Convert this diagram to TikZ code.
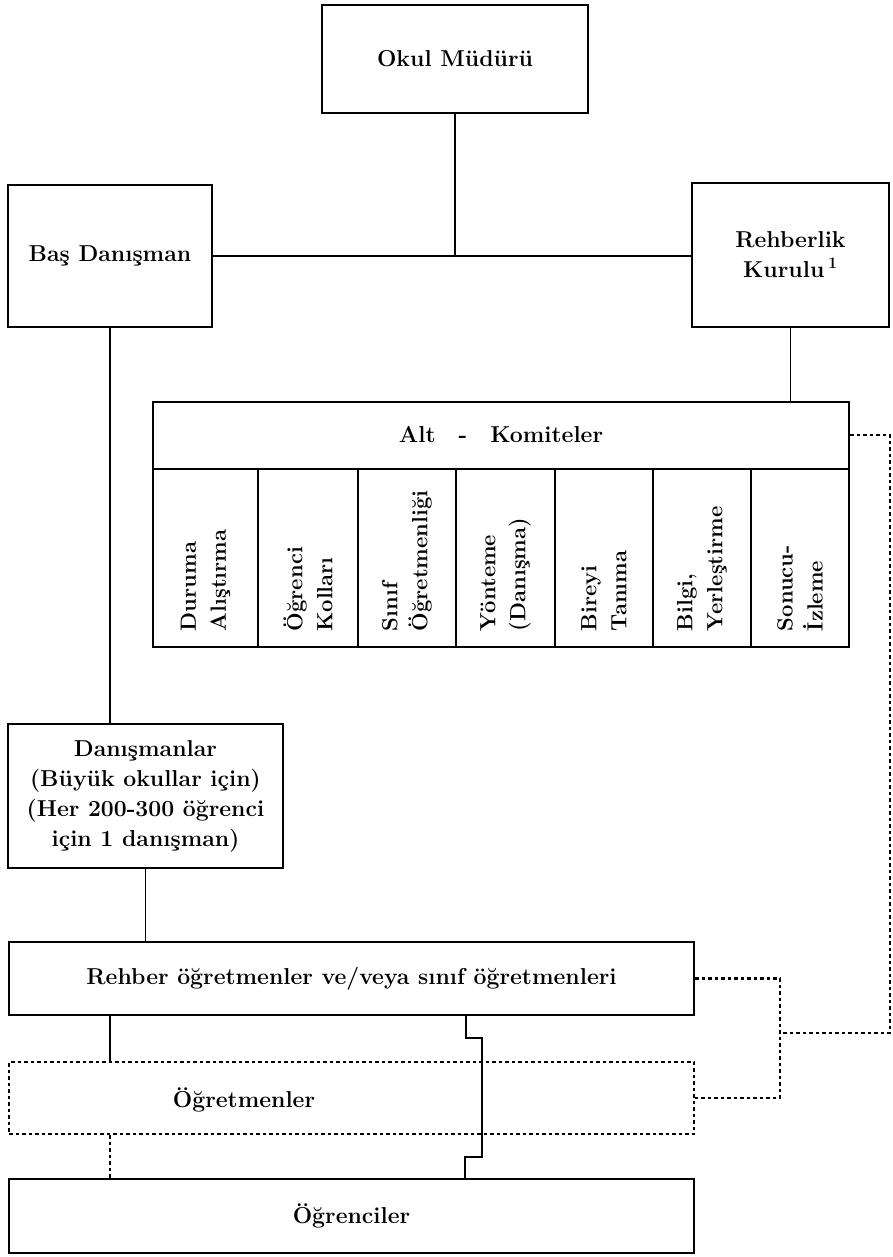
\documentclass[tikz,border=0pt]{standalone}
\usepackage{fontspec}
\usetikzlibrary{calc}

\begin{document}
\begin{tikzpicture}[x=1pt, y=-1pt, line width=1.8pt,
        font=\fontsize{23}{30}\selectfont\bfseries,
        box/.style={draw, rectangle, line width=2.3pt, inner sep=0pt, align=center},
        coltxt/.style={rotate=90, anchor=west, align=left, inner sep=0pt, font=\fontsize{22}{30}\selectfont\bfseries},
        dotline/.style={line width=2.4pt, dash pattern=on 3.5pt off 3pt}]
        \useasboundingbox (0,0) rectangle (893,1257);

        \node[box, minimum width=266, minimum height=108] (mudur) at (455,59) {Okul Müdürü};
        \node[box, minimum width=204, minimum height=142] (bas) at (110,256) {Baş Danışman};
        \node[box, minimum width=197, minimum height=144] (kurul) at (790.5,255) {Rehberlik\\Kurulu\,\textsuperscript{1}};
        \node[box, minimum width=275, minimum height=144] (dan) at (145.5,796) {Danışmanlar\\(Büyük okullar için)\\(Her 200-300 öğrenci\\için 1 danışman)};

        % alt komiteler tablosu
        \node[box, minimum width=696, minimum height=245] (altk) at (501,524.5) {};
        \node (hdr) at (501,435) {Alt\quad-\quad Komiteler};
        \draw[line width=2.3pt] (153,469) -- (849,469);
        \draw (258,469) -- (258,647);
        \draw (358,469) -- (358,647);
        \draw (456,469) -- (456,647);
        \draw (555,469) -- (555,647);
        \draw (653,469) -- (653,647);
        \draw (751,469) -- (751,647);
        \node[coltxt] (k1) at (205.5,632) {Duruma\\Alıştırma};
        \node[coltxt] (k2) at (308,632) {Öğrenci\\Kolları};
        \node[coltxt] (k3) at (407,632) {Sınıf\\Öğretmenliği};
        \node[coltxt] (k4) at (505.5,632) {Yönteme\\(Danışma)};
        \node[coltxt] (k5) at (604,632) {Bireyi\\Tanıma};
        \node[coltxt] (k6) at (702,632) {Bilgi,\\Yerleştirme};
        \node[coltxt] (k7) at (800,632) {Sonucu-\\İzleme};

        \node[box, minimum width=685, minimum height=73] (rehber) at (351.5,978.5) {Rehber öğretmenler ve/veya sınıf öğretmenleri};
        \node[box, dotline, minimum width=685, minimum height=72] (ogrt) at (351.5,1098) {};
        \node (ogrtlbl) at (244,1100) {Öğretmenler};
        \node[box, minimum width=685, minimum height=74] (ogrc) at (351.5,1216) {Öğrenciler};

        \coordinate (m) at (780,1033);
        \coordinate (r) at (890,1033);

        \draw (mudur.south) -- (mudur.south |- bas.east);
        \draw (bas.east) -- (bas.east -| kurul.west);
        \draw (bas.south) -- (bas.south |- dan.north);
        \draw (kurul.south) -- (kurul.south |- altk.north);
        \draw (dan.south) -- (dan.south |- rehber.north);
        \draw (rehber.south -| bas.south) -- (ogrt.north -| bas.south);
        \draw[dotline] (ogrt.south -| bas.south) -- (ogrc.north -| bas.south);
        \draw[line width=1.5pt] (rehber.south -| 466,0) -- (466,1038) -- (482,1038) -- (482,1157) -- (465,1157) -- (ogrc.north -| 465,0);

        \draw[dotline] (rehber.east) -| (m) |- (ogrt.east);
        \draw[dotline] (hdr -| altk.east) -| (r) -- (m);
\end{tikzpicture}
\end{document}
